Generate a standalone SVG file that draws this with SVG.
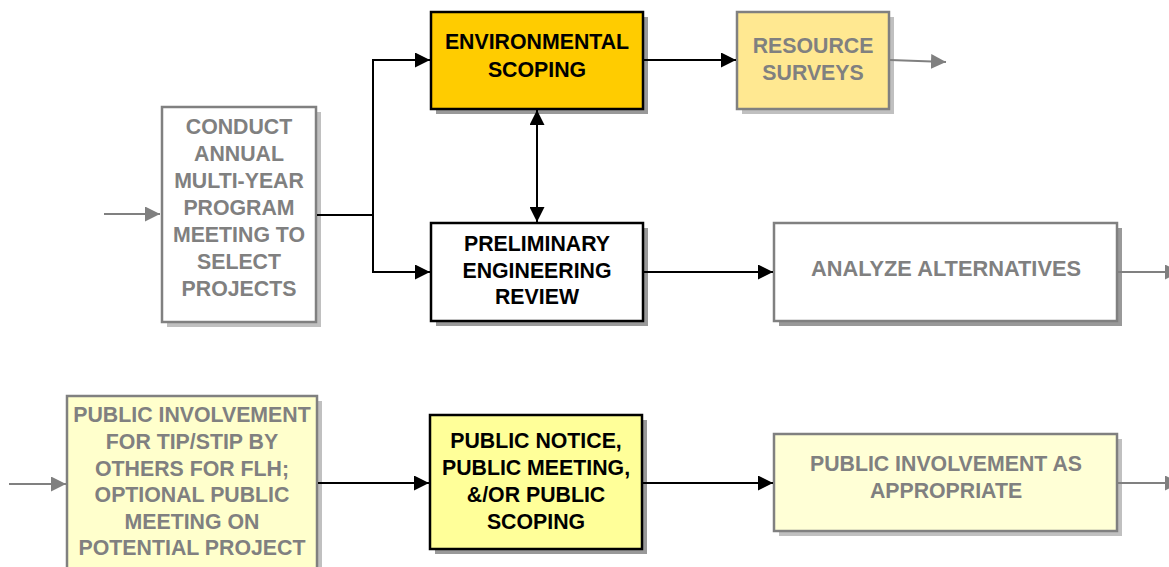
<svg xmlns="http://www.w3.org/2000/svg" width="1169" height="567" viewBox="0 0 1169 567">
<style>
text{font-family:"Liberation Sans",Arial,sans-serif;font-weight:bold;font-size:21.3px;text-anchor:middle}
.tk{fill:#000}
.tg{fill:#808080}
.bk{stroke:#000;stroke-width:2.5}
.bg{stroke:#808080;stroke-width:2.5}
.shd{fill:#999999}
.shl{fill:#c0c0c0}
.ck{stroke:#000;stroke-width:2;fill:none}
.cg{stroke:#808080;stroke-width:2;fill:none}
</style>
<defs>
<marker id="ak" viewBox="0 0 15 15" refX="15" refY="7.5" markerWidth="15" markerHeight="15" markerUnits="userSpaceOnUse" orient="auto-start-reverse"><path d="M0,0 L15,7.5 L0,15 Z" fill="#000"/></marker>
<marker id="ag" viewBox="0 0 15 15" refX="15" refY="7.5" markerWidth="15" markerHeight="15" markerUnits="userSpaceOnUse" orient="auto"><path d="M0,0 L15,7.5 L0,15 Z" fill="#808080"/></marker>
</defs>
<rect width="1169" height="567" fill="#fff"/>
<g id="conduct">
<rect class="shl" x="167" y="112" width="154" height="215"/>
<rect class="bg" x="162" y="107" width="154" height="215" fill="#fff"/>
<text class="tg" x="239" y="134">CONDUCT</text>
<text class="tg" x="239" y="161">ANNUAL</text>
<text class="tg" x="239" y="188">MULTI-YEAR</text>
<text class="tg" x="239" y="215">PROGRAM</text>
<text class="tg" x="239" y="242">MEETING TO</text>
<text class="tg" x="239" y="269">SELECT</text>
<text class="tg" x="239" y="296">PROJECTS</text>
</g>
<g id="env-scoping">
<rect class="shd" x="436" y="17" width="212" height="97"/>
<rect class="bk" x="431" y="12" width="212" height="97" fill="#ffcc00"/>
<text class="tk" x="537" y="49">ENVIRONMENTAL</text>
<text class="tk" x="537" y="77">SCOPING</text>
</g>
<g id="resource-surveys">
<rect class="shl" x="742" y="17" width="152" height="97"/>
<rect class="bg" x="737" y="12" width="152" height="97" fill="#ffe891"/>
<text class="tg" x="813" y="53">RESOURCE</text>
<text class="tg" x="813" y="80">SURVEYS</text>
</g>
<g id="prelim">
<rect class="shd" x="436" y="228" width="212" height="98"/>
<rect class="bk" x="431" y="223" width="212" height="98" fill="#fff"/>
<text class="tk" x="537" y="251">PRELIMINARY</text>
<text class="tk" x="537" y="278">ENGINEERING</text>
<text class="tk" x="537" y="304">REVIEW</text>
</g>
<g id="analyze">
<rect class="shd" x="779" y="228" width="343" height="98"/>
<rect class="bg" x="774" y="223" width="343" height="98" fill="#fff"/>
<text class="tg" x="946" y="276" style="font-size:21.8px">ANALYZE ALTERNATIVES</text>
</g>
<g id="public-involvement-tip">
<rect class="shl" x="72" y="401" width="250" height="180"/>
<rect class="bg" x="67" y="396" width="250" height="185" fill="#ffffcc"/>
<text class="tg" x="192" y="422">PUBLIC INVOLVEMENT</text>
<text class="tg" x="192" y="449">FOR TIP/STIP BY</text>
<text class="tg" x="192" y="476">OTHERS FOR FLH;</text>
<text class="tg" x="192" y="502">OPTIONAL PUBLIC</text>
<text class="tg" x="192" y="529">MEETING ON</text>
<text class="tg" x="192" y="555">POTENTIAL PROJECT</text>
</g>
<g id="public-notice">
<rect class="shd" x="435" y="420" width="212" height="134"/>
<rect class="bk" x="430" y="415" width="212" height="134" fill="#ffff99"/>
<text class="tk" x="536" y="448">PUBLIC NOTICE,</text>
<text class="tk" x="536" y="475">PUBLIC MEETING,</text>
<text class="tk" x="536" y="502">&amp;/OR PUBLIC</text>
<text class="tk" x="536" y="529">SCOPING</text>
</g>
<g id="public-involvement-appropriate">
<rect class="shl" x="779" y="439" width="343" height="97"/>
<rect class="bg" x="774" y="434" width="343" height="97" fill="#ffffd6"/>
<text class="tg" x="946" y="471">PUBLIC INVOLVEMENT AS</text>
<text class="tg" x="946" y="498">APPROPRIATE</text>
</g>
<g id="connectors">
<path class="cg" d="M104,214 H160" marker-end="url(#ag)"/>
<path class="ck" d="M317,215 H373 V60 H430" marker-end="url(#ak)"/>
<path class="ck" d="M373,215 V272 H430" marker-end="url(#ak)"/>
<path class="ck" d="M537,110 V222" marker-start="url(#ak)" marker-end="url(#ak)"/>
<path class="ck" d="M644,60 H736" marker-end="url(#ak)"/>
<path class="cg" d="M890,60 L946,62" marker-end="url(#ag)"/>
<path class="ck" d="M644,272 H773" marker-end="url(#ak)"/>
<path class="cg" d="M1118,272 H1180" marker-end="url(#ag)"/>
<path class="cg" d="M9,484 H66" marker-end="url(#ag)"/>
<path class="ck" d="M318,483 H429" marker-end="url(#ak)"/>
<path class="ck" d="M643,483 H773" marker-end="url(#ak)"/>
<path class="cg" d="M1118,483 H1180" marker-end="url(#ag)"/>
</g>
</svg>
